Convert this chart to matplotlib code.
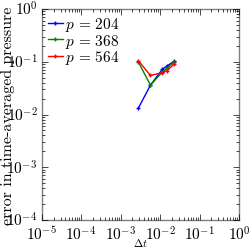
import matplotlib
matplotlib.use("Agg")
import matplotlib.pyplot as plt

# time steps and pressure errors
dt_204 = [0.0028, 0.0057, 0.0114, 0.0152, 0.0228]
err_204 = [0.0131, 0.036, 0.072, 0.084, 0.102]
dt_368 = [0.0028, 0.0057, 0.0114, 0.0152, 0.0228]
err_368 = [0.100, 0.036, 0.064, 0.076, 0.100]
dt_564 = [0.0028, 0.0057, 0.0114, 0.0152, 0.0228]
err_564 = [0.105, 0.055, 0.062, 0.068, 0.091]
labels = [r"$p\,=\,204$", r"$p\,=\,368$", r"$p\,=\,564$"]

plt.style.use("classic")
plt.rcParams["mathtext.fontset"] = "cm"
plt.rcParams["font.family"] = ["cmr10", "DejaVu Serif"]
plt.rcParams["axes.formatter.use_mathtext"] = True

fig = plt.figure(figsize=(2.49, 2.51), dpi=100)
ax = fig.add_axes([41.7 / 249, 30 / 251, 197.3 / 249, 211 / 251])

ax.loglog(dt_204, err_204, "b+-", ms=3, mew=1, lw=1, label=labels[0])
ax.loglog(dt_368, err_368, "g+-", ms=3, mew=1, lw=1, label=labels[1])
ax.loglog(dt_564, err_564, "r+-", ms=3, mew=1, lw=1, label=labels[2])

ax.set_xlim(1e-5, 1e0)
ax.set_ylim(1e-4, 1e0)
ax.tick_params(labelsize=11, pad=3)
for s in ax.spines.values():
    s.set_color("0.5")

ax.set_xlabel(r"$\Delta t$", fontsize=8, labelpad=-5)
ax.set_ylabel("error in time-averaged pressure", fontsize=11.5)
ax.yaxis.set_label_coords(-0.135, 0.5)

ax.legend(loc="upper left", frameon=False, fontsize=11, handlelength=1.0,
          handletextpad=0.1, labelspacing=-0.1, borderaxespad=0.0,
          numpoints=1)

fig.savefig("out.png", dpi=100)
